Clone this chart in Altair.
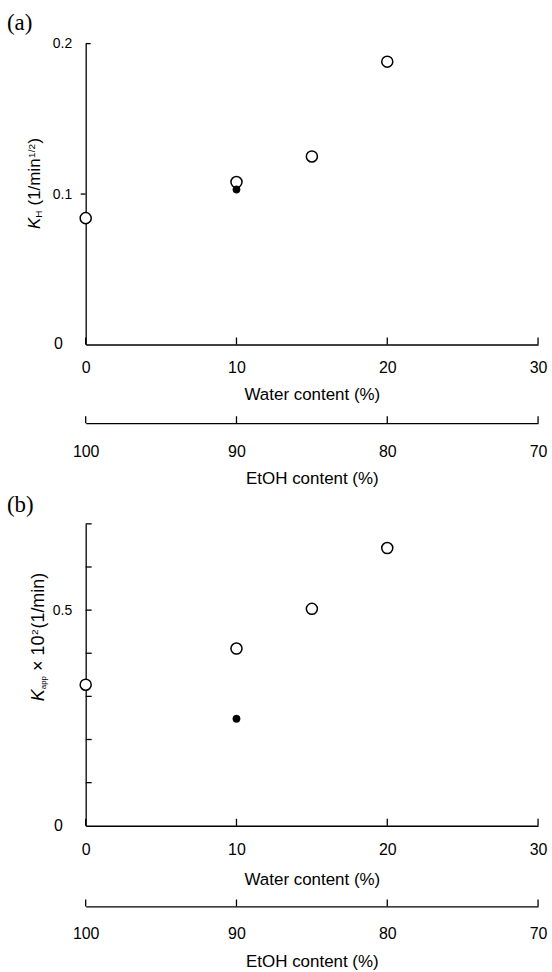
import altair as alt
import pandas as pd

# ---------------- data ----------------
water_open = [0, 10, 15, 20]
kh_open = [0.084, 0.108, 0.125, 0.188]
water_filled = [10]
kh_filled = [0.103]
kapp_open = [0.327, 0.411, 0.503, 0.644]
kapp_filled = [0.248]

water_ticks = [0, 10, 20, 30]
etoh_ticks = [100, 90, 80, 70]
kh_ticks = [0, 0.1, 0.2]
kapp_ticks = [0, 0.1, 0.2, 0.3, 0.4, 0.5, 0.6, 0.7]
zero_label = [0]

# ---------------- style ----------------
FONT = "Liberation Sans"
SERIF = "Liberation Serif"
W = 454
H_A = 302
H_B = 303
LW = 1.3
NBSP = "\u00a0"

ARIAL = {'K': 667, 'H': 722, ' ': 278, NBSP: 278, '(': 333, ')': 333, '1': 556, '/': 278,
         'm': 833, 'i': 222, 'n': 556, '2': 556, '0': 556, 'a': 556, 'p': 556,
         '\u00d7': 584}


def tw(s, size):
    return sum(ARIAL.get(c, 556) for c in s) * size / 1000.0


one = pd.DataFrame({"a": [0]})


def text_piece(text, x, y, size, italic=False, angle=270, font=FONT):
    return alt.Chart(one).mark_text(
        text=text, angle=angle, align="left", baseline="alphabetic", font=font,
        fontSize=size, fontStyle="italic" if italic else "normal", color="black"
    ).encode(x=alt.value(x), y=alt.value(y))


def ytitle(pieces, y_start, x_base):
    layers = []
    y = y_start
    for text, size, shift, italic, gap in pieces:
        y -= gap
        layers.append(text_piece(text, x_base + shift, y, size, italic))
        y -= tw(text, size)
    return layers


def panel(y_open, y_filled, ymax, ytick_vals, label_expr, H, etoh_offset,
          pads, tag, tag_y, title_pieces, title_y, title_x, ytick_rules):
    xs = alt.Scale(domain=[0, 30], nice=False, zero=False)
    ys = alt.Scale(domain=[0, ymax], nice=False, zero=True)
    open_df = pd.DataFrame({"water": water_open, "k": y_open})
    filled_df = pd.DataFrame({"water": water_filled, "k": y_filled})
    wt_df = pd.DataFrame({"water": water_ticks})
    z_df = pd.DataFrame({"k": zero_label})

    x_axis = alt.Axis(values=water_ticks, ticks=False, grid=False, domainColor="black",
                      domainWidth=LW, labelFont=FONT, labelFontSize=16, labelColor="black",
                      labelPadding=pads[0], labelFlush=False, title="Water content (%)",
                      titleFont=FONT, titleFontSize=17, titleFontWeight="normal",
                      titleColor="black", titlePadding=pads[1])
    y_axis = alt.Axis(values=ytick_vals, ticks=False, grid=False, domainColor="black",
                      domainWidth=LW, labelFont=FONT, labelFontSize=14,
                      labelColor="black", labelPadding=14, labelExpr=label_expr,
                      labelFlush=False, title=None)

    pts_open = alt.Chart(open_df).mark_point(
        shape="circle", filled=True, fill="white", stroke="black", strokeWidth=1.5,
        size=123, opacity=1
    ).encode(x=alt.X("water:Q", scale=xs, axis=x_axis),
             y=alt.Y("k:Q", scale=ys, axis=y_axis))
    pts_filled = alt.Chart(filled_df).mark_point(
        shape="circle", filled=True, fill="black", stroke="black", strokeWidth=0.5,
        size=55, opacity=1
    ).encode(x=alt.X("water:Q", scale=xs), y=alt.Y("k:Q", scale=ys))

    xticks = alt.Chart(wt_df).mark_rule(color="black", strokeWidth=LW).encode(
        x=alt.X("water:Q", scale=xs), y=alt.value(H), y2=alt.value(H - 7))

    zero_txt = alt.Chart(z_df).mark_text(
        align="right", baseline="middle", font=FONT, fontSize=16, color="black"
    ).encode(y=alt.Y("k:Q", scale=ys), x=alt.value(-23), text="k:Q")

    layers = [xticks, zero_txt]
    for vals, x0, x1 in ytick_rules:
        d = pd.DataFrame({"k": vals})
        layers.append(alt.Chart(d).mark_rule(color="black", strokeWidth=LW).encode(
            y=alt.Y("k:Q", scale=ys), x=alt.value(x0), x2=alt.value(x1)))
    layers += [pts_open, pts_filled]
    layers += ytitle(title_pieces, title_y, title_x)
    layers.append(text_piece(tag, -79, tag_y, 23, angle=0, font=SERIF))

    main = alt.layer(*layers)

    et_df = pd.DataFrame({"etoh": etoh_ticks})
    es = alt.Scale(domain=[100, 70], nice=False, zero=False)
    e_axis = alt.Axis(orient="bottom", offset=etoh_offset, values=etoh_ticks, ticks=False,
                      grid=False, domainColor="black", domainWidth=LW, labelFont=FONT,
                      labelFontSize=16, labelColor="black", labelPadding=pads[2],
                      labelFlush=False, title="EtOH content (%)", titleFont=FONT,
                      titleFontSize=17, titleFontWeight="normal", titleColor="black",
                      titlePadding=pads[3])
    etoh = alt.Chart(et_df).mark_rule(color="black", strokeWidth=LW).encode(
        x=alt.X("etoh:Q", scale=es, axis=e_axis),
        y=alt.value(H + etoh_offset), y2=alt.value(H + etoh_offset - 7))

    return alt.layer(main, etoh).resolve_scale(x="independent").resolve_axis(
        x="independent").properties(width=W, height=H)


expr_a = "datum.value == 0 ? '' : format(datum.value, '.1f')"
expr_b = "abs(datum.value - 0.5) < 1e-9 ? '0.5' : ''"

# (text, font size, baseline shift, italic, gap before)
title_a = [("K", 17, 0, True, 0), ("H", 10, 2, False, 0), ("(1/min", 17, 0, False, 5),
           ("1/2", 10, -5, False, 0.5), (")", 17, 0, False, 0.5)]
title_b = [("K", 18, 0, True, 0), ("app", 8, 2, False, 0),
           ("\u00d7" + NBSP + "10", 18, 0, False, 5),
           ("2", 10, -6, False, 0.5), ("(1/min)", 18, 0, False, 1)]

pa = panel(kh_open, kh_filled, 0.2, kh_ticks, expr_a, H_A, 79, (15, 11, 20, 11),
           "(a)", -14, title_a, 186, -46,
           [([0.2], 0, 5), ([0.1], -5, 0)])
pb = panel(kapp_open, kapp_filled, 0.7, kapp_ticks, expr_b, H_B, 81, (16, 14, 19, 12),
           "(b)", -12, title_b, 178, -42,
           [(kapp_ticks[1:], 0, 6)])

chart = alt.vconcat(pa, pb, spacing=8).properties(
    padding={"left": 7, "top": 10, "right": 5, "bottom": 0}
).configure_view(stroke=None)

chart.save("out.html", embed_options={"renderer": "svg", "actions": False})
